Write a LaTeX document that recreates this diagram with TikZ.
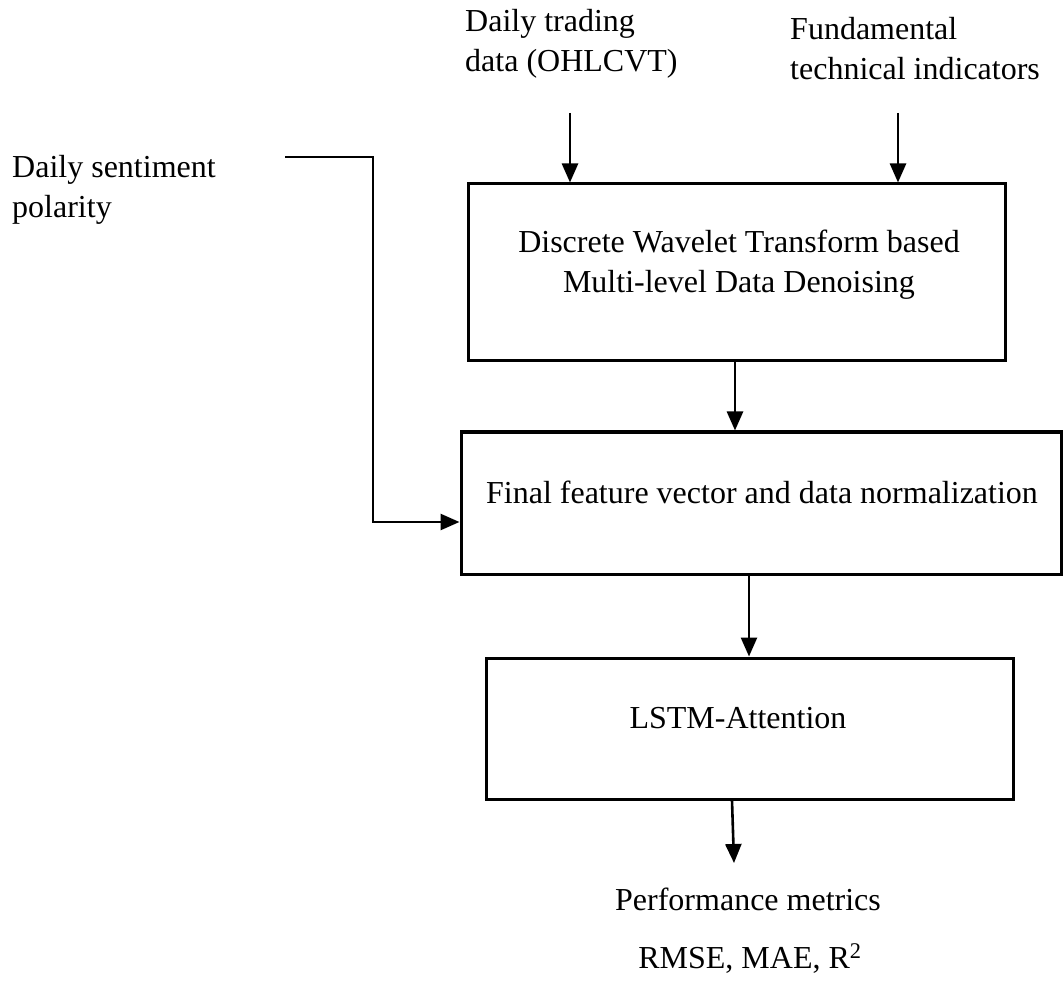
\documentclass[tikz,border=0pt]{standalone}
\usepackage{fontspec}
\setmainfont{Liberation Serif}
\usetikzlibrary{arrows.meta}
\begin{document}
\begin{tikzpicture}[x=1pt,y=-1pt,
  txt/.style={font=\fontsize{32}{40}\selectfont, inner sep=0pt},
  stage/.style={draw, line width=3pt, rectangle, inner sep=0pt},
  flow/.style={line width=2.6pt, -{Triangle[length=19pt,width=16pt]}},
  wire/.style={line width=2.6pt}]
\useasboundingbox (0,0) rectangle (1063,981);

% processing stages
\node[stage, minimum width=537, minimum height=177] (dwt) at (736.5,272.5) {};
\node[stage, minimum width=600, minimum height=142] (feat) at (761,503) {};
\node[stage, minimum width=527, minimum height=141] (lstm) at (749.5,728.5) {};

% stage captions (base anchor = baseline of the last line)
\node[txt, align=center, anchor=base] (dwtlbl) at (739,293)
  {Discrete Wavelet Transform based\\Multi-level Data Denoising};
\node[txt, anchor=base] (featlbl) at (762,503)
  {Final feature vector and data normalization};
\node[txt, anchor=base] (lstmlbl) at (738,728) {LSTM-Attention};

% inputs
\node[txt, align=left, anchor=base west] (trade) at (465,72)
  {Daily trading\\data (OHLCVT)};
\node[txt, align=left, anchor=base west] (fund) at (790,80)
  {Fundamental\\technical indicators};
\node[txt, align=left, anchor=base west] (senti) at (12,218)
  {Daily sentiment\\polarity};

% outputs
\node[txt, anchor=base] (perf) at (748,910) {Performance metrics};
\node[txt, anchor=base] (metr) at (750,968) {RMSE, MAE, R\textsuperscript{2}};

% connectors
\coordinate (tradeA) at (570,113);
\coordinate (fundA) at (898,113);
\coordinate (sentA) at (285,157);
\coordinate (outA) at (734,863);

\draw[flow] (tradeA) -- (tradeA |- dwt.north);
\draw[flow] (fundA) -- (fundA |- dwt.north);
\draw[flow] (735,0 |- dwt.south) -- (735,0 |- feat.north);
\draw[flow] (749,0 |- feat.south) -- (749,0 |- lstm.north);
\draw[flow] (732,0 |- lstm.south) -- (outA);
\draw[flow] (sentA) -- (373,157) -- (373,522) -- (feat.west |- 0,522);
\end{tikzpicture}
\end{document}
